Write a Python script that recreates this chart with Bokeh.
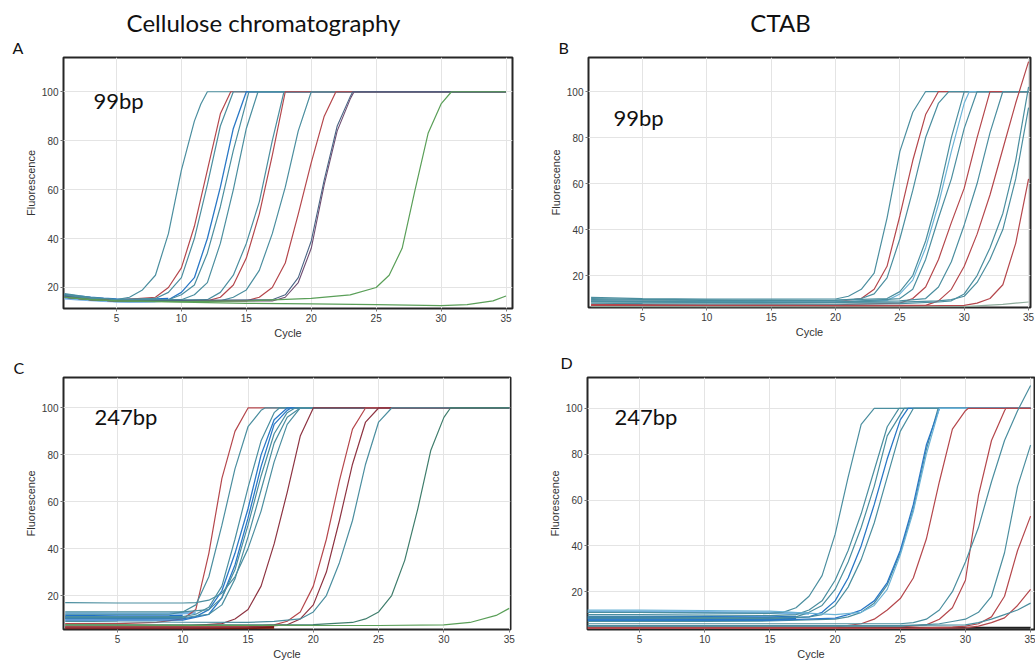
from bokeh.plotting import figure
from bokeh.models import Range1d, Label
from bokeh.layouts import column, row
from bokeh.core.properties import value
from bokeh.embed import file_html
from bokeh.resources import INLINE

# ---------------- data (digitised vertices: cycle, fluorescence) ----------------
X_TICKS = [5, 10, 15, 20, 25, 30, 35]
Y_TICKS = [20, 40, 60, 80, 100]
COLUMN_TITLES = ["Cellulose chromatography", "CTAB"]
PANEL_LETTERS = ["A", "B", "C", "D"]
AMPLICONS = ["99bp", "99bp", "247bp", "247bp"]

A_band = [
    ("band", [1, 2, 3, 4, 5, 6, 7, 8, 9], [16.6, 16.0, 15.5, 15.1, 14.8, 14.7, 14.7, 14.8, 15.0]),
    ("lb", [1, 2, 3, 4, 5, 6, 7, 8], [15.6, 15.2, 14.9, 14.6, 14.4, 14.3, 14.4, 14.5]),
]
A_curves = [
    ("t", [1, 3, 5, 6, 7, 8, 9, 10, 11, 11.5, 12, 35], [17, 15.8, 15, 16, 19, 25, 42, 68, 88, 95, 100, 100]),
    ("r", [1, 3, 5, 8, 9, 10, 11, 12, 13, 13.8, 35], [16.5, 15.5, 14.8, 16, 20, 28, 45, 68, 91, 100, 100]),
    ("t", [1, 3, 5, 8, 9, 10, 11, 12, 13, 14, 35], [17.5, 16, 15, 15.5, 18, 24, 40, 62, 86, 100, 100]),
    ("b", [1, 3, 5, 9, 10, 11, 12, 13, 14, 15, 35], [16, 15, 14.5, 15, 18, 24, 40, 61, 85, 100, 100]),
    ("t", [1, 3, 5, 9, 10, 11, 12, 13, 14, 15, 15.2, 35], [17, 15.5, 14.8, 15, 17, 21, 34, 53, 76, 96, 100, 100]),
    ("t", [1, 3, 5, 10, 11, 12, 13, 14, 15, 15.9, 35], [16.5, 15.5, 14.8, 15, 17, 22, 38, 60, 85, 100, 100]),
    ("t", [1, 3, 5, 12, 13, 14, 15, 16, 17, 17.9, 35], [17, 15.5, 14.5, 15, 18, 25, 38, 55, 80, 100, 100]),
    ("r", [1, 3, 5, 12, 13, 14, 15, 16, 17, 18, 35], [16, 15, 14.5, 14.5, 16, 21, 32, 50, 74, 100, 100]),
    ("t", [1, 3, 5, 13, 14, 15, 16, 17, 18, 19, 20, 35], [16.5, 15.2, 14.5, 14.5, 16, 19, 27, 42, 61, 84, 100, 100]),
    ("r", [1, 3, 5, 15, 16, 17, 18, 19, 20, 21, 21.9, 35], [16, 15, 14.5, 14.5, 16, 20, 30, 50, 71, 90, 100, 100]),
    ("p", [1, 3, 5, 17, 18, 19, 20, 21, 22, 23, 23.3, 35], [16, 15, 14.5, 14.5, 16, 22, 36, 62, 84, 97, 100, 100]),
    ("d", [1, 3, 5, 17, 18, 19, 20, 21, 22, 23, 23.2, 35], [16.5, 15, 14.5, 15, 17, 24, 39, 64, 86, 98, 100, 100]),
    ("g", [1, 3, 5, 10, 15, 20, 23, 25, 26, 27, 28, 29, 30, 30.8, 35],
     [16, 15, 14.5, 14.2, 14.5, 15.5, 17, 20, 25, 36, 60, 83, 95, 100, 100]),
    ("g", [1, 3, 5, 10, 15, 20, 25, 30, 32, 34, 35], [16, 15, 14.5, 14, 13.5, 13.3, 13, 12.6, 13, 14.5, 16.5]),
]

B_band = []
B_curves = [
    ("t", [1, 5, 10, 15, 20, 21, 22, 23, 24, 25, 26, 27, 35], [10.5, 10, 9.8, 9.7, 9.8, 11, 14, 21, 45, 74, 91, 100, 100]),
    ("r", [1, 5, 10, 15, 20, 22, 23, 24, 25, 26, 27, 28, 35], [9, 8.8, 8.6, 8.5, 8.6, 10, 14, 24, 46, 70, 90, 100, 100]),
    ("t", [1, 5, 10, 15, 20, 22, 23, 24, 25, 26, 27, 28, 28.8, 35], [9.5, 9.3, 9.2, 9, 9.2, 10, 12, 19, 36, 57, 80, 95, 100, 100]),
    ("t", [1, 5, 10, 15, 20, 24, 25, 26, 27, 28, 29, 30, 35], [10, 9.6, 9.4, 9.2, 9.3, 10, 13, 20, 35, 55, 80, 100, 100]),
    ("l", [1, 5, 10, 15, 20, 24, 25, 26, 27, 28, 29, 30, 30.4, 35], [9, 8.8, 8.7, 8.6, 8.7, 9.2, 12, 18, 32, 51, 74, 95, 100, 100]),
    ("t", [1, 5, 10, 15, 20, 25, 26, 27, 28, 29, 30, 31, 35], [8.5, 8.4, 8.3, 8.2, 8.3, 10, 14, 27, 45, 62, 84, 100, 100]),
    ("r", [1, 5, 10, 15, 20, 25, 26, 27, 28, 29, 30, 31, 32, 35], [7.5, 7.4, 7.3, 7.2, 7.3, 8, 10, 15, 27, 43, 58, 80, 100, 100]),
    ("t", [1, 5, 10, 15, 20, 25, 27, 28, 29, 30, 31, 32, 33, 35], [9, 8.8, 8.6, 8.5, 8.5, 9, 10, 15, 26, 42, 60, 82, 100, 100]),
    ("r", [1, 5, 10, 20, 25, 27, 28, 29, 30, 31, 32, 33, 34, 35], [7, 7, 6.9, 6.9, 7, 7, 9, 14, 24, 38, 55, 75, 95, 113]),
    ("t", [1, 5, 10, 20, 25, 28, 29, 30, 31, 32, 33, 34, 35], [8, 7.8, 7.7, 7.6, 7.8, 8.5, 9, 12, 20, 32, 47, 70, 102]),
    ("t", [1, 5, 10, 20, 25, 28, 29, 30, 31, 32, 33, 34, 35], [8.7, 8.5, 8.4, 8.3, 8.4, 9, 9.5, 11, 17, 27, 40, 62, 93]),
    ("r", [1, 5, 10, 20, 25, 30, 31, 32, 33, 34, 35], [6.8, 6.8, 6.8, 6.7, 6.7, 7, 8, 10, 16, 34, 62]),
    ("gg", [1, 10, 20, 25, 30, 33, 35], [6.5, 6.4, 6.3, 6.3, 6.5, 7.5, 8.5]),
]

C_band = [
    ("band", [1, 3, 5, 7, 9, 10], [10.8, 10.8, 10.7, 10.7, 10.8, 11]),
    ("lb", [1, 3, 5, 7, 9, 11], [12.3, 12.3, 12.2, 12.2, 12.3, 12.6]),
    ("mb", [1, 5, 10, 15, 17], [6.2, 6.2, 6.2, 6.3, 6.5]),
]
C_curves = [
    ("r", [1, 5, 8, 10, 11, 12, 13, 14, 15, 35], [8, 8, 8.5, 10, 14, 38, 70, 90, 100, 100]),
    ("t", [1, 5, 9, 10, 11, 12, 13, 14, 15, 16, 16.3, 35], [12, 12, 12, 13, 16, 28, 50, 74, 92, 99, 100, 100]),
    ("t", [1, 5, 10, 11, 12, 13, 14, 15, 16, 17, 17.4, 35], [11, 11, 11, 12, 15, 24, 44, 66, 86, 98, 100, 100]),
    ("b", [1, 5, 10, 11, 12, 13, 14, 15, 16, 17, 18, 35], [10, 10, 10, 11, 14, 22, 38, 57, 80, 95, 100, 100]),
    ("b", [1, 5, 10, 12, 13, 14, 15, 16, 17, 18, 18.3, 35], [9.5, 9.5, 9.5, 12, 19, 33, 53, 75, 93, 99, 100, 100]),
    ("t", [1, 5, 10, 12, 13, 14, 15, 16, 17, 18, 18.6, 35], [13, 13, 13, 14, 19, 31, 50, 71, 89, 98, 100, 100]),
    ("t", [1, 5, 10, 12, 13, 14, 15, 16, 17, 18, 19, 35], [10.5, 10.5, 10.5, 12, 16, 27, 45, 65, 85, 96, 100, 100]),
    ("t", [1, 5, 10, 11, 12, 13, 14, 15, 16, 17, 18, 19, 35], [17, 16.8, 16.8, 17, 18, 21, 28, 40, 56, 77, 93, 100, 100]),
    ("m", [1, 5, 10, 13, 14, 15, 16, 17, 18, 19, 20, 35], [7, 7, 7, 8, 10, 14, 24, 42, 64, 88, 100, 100]),
    ("r", [1, 5, 10, 15, 17, 18, 19, 20, 21, 22, 23, 24, 35], [6.5, 6.5, 6.5, 6.8, 7.5, 9, 13, 24, 44, 69, 91, 100, 100]),
    ("m", [1, 5, 10, 15, 18, 19, 20, 21, 22, 23, 24, 25, 35], [6.2, 6.2, 6.2, 6.5, 7.5, 10, 16, 30, 52, 76, 94, 100, 100]),
    ("t", [1, 5, 10, 15, 17, 19, 20, 21, 22, 23, 24, 25, 26, 35], [9, 8.8, 8.6, 8.5, 9, 10, 13, 20, 34, 52, 76, 94, 100, 100]),
    ("dg", [1, 5, 10, 15, 20, 23, 24, 25, 26, 27, 28, 29, 30, 30.5, 35],
     [7.5, 7.5, 7.5, 7.5, 7.6, 8.5, 10, 13, 20, 35, 57, 82, 96, 100, 100]),
    ("g", [1, 5, 10, 15, 20, 25, 30, 32, 34, 35], [7.5, 7.4, 7.3, 7.2, 7.2, 7.2, 7.5, 8.5, 11.5, 14.5]),
]

D_band = [
    ("band", [1, 5, 10, 15, 17], [8.6, 8.6, 8.5, 8.4, 8.6]),
    ("lb", [1, 5, 10, 15, 18], [11.2, 11.2, 11.0, 10.8, 10.5]),
    ("k", [1, 10, 20, 30, 35], [4.3, 4.3, 4.3, 4.3, 4.3]),
]
D_curves = [
    ("t", [1, 5, 10, 15, 16, 17, 18, 19, 20, 21, 22, 23, 35], [11, 11, 10.8, 10.5, 11, 13, 18, 27, 45, 70, 93, 100, 100]),
    ("t", [1, 5, 10, 15, 17, 18, 19, 20, 21, 22, 23, 24, 24.9, 35], [10, 10, 9.8, 9.6, 10, 12, 16, 25, 38, 54, 73, 92, 100, 100]),
    ("t", [1, 5, 10, 15, 17, 18, 19, 20, 21, 22, 23, 24, 25.3, 35], [9, 9, 8.8, 8.6, 9, 11, 14, 21, 33, 48, 66, 88, 100, 100]),
    ("b", [1, 5, 10, 15, 18, 19, 20, 21, 22, 23, 24, 25, 25.6, 35], [8, 8, 8, 8, 9, 11, 16, 26, 40, 58, 78, 95, 100, 100]),
    ("t", [1, 5, 10, 15, 18, 19, 20, 21, 22, 23, 24, 25, 26, 35], [8.5, 8.5, 8.3, 8.2, 9, 10, 14, 22, 34, 50, 70, 90, 100, 100]),
    ("t", [1, 5, 10, 15, 20, 21, 22, 23, 24, 25, 26, 27, 27.9, 35], [7, 7, 7, 7.2, 8, 9, 11, 15, 23, 37, 56, 82, 100, 100]),
    ("b", [1, 5, 10, 15, 20, 21, 22, 23, 24, 25, 26, 27, 28, 35], [7.5, 7.5, 7.5, 7.5, 8.5, 10, 12, 16, 24, 38, 58, 84, 100, 100]),
    ("l", [1, 5, 10, 15, 20, 22, 23, 24, 25, 26, 27, 28, 35], [12, 12, 11.8, 11.5, 10, 11, 14, 21, 36, 55, 80, 100, 100]),
    ("r", [1, 5, 10, 15, 20, 22, 23, 24, 25, 26, 27, 28, 29, 30, 30.2, 35],
     [4.5, 4.5, 4.5, 4.5, 4.6, 6, 8, 12, 17, 26, 43, 68, 91, 99, 100, 100]),
    ("r", [1, 5, 10, 20, 25, 27, 28, 29, 30, 31, 32, 33, 33.1, 35], [4.5, 4.5, 4.5, 4.5, 4.6, 5.5, 8, 13, 25, 62, 86, 99, 100, 100]),
    ("t", [1, 5, 10, 20, 25, 26, 27, 28, 29, 30, 31, 32, 33, 34, 35], [6, 6, 6, 6, 6, 6.5, 8, 12, 20, 33, 48, 68, 86, 99, 110]),
    ("t", [1, 5, 10, 20, 25, 28, 29, 30, 31, 32, 33, 34, 35], [5, 5, 5, 5, 5, 6, 7, 8, 11, 18, 37, 66, 84]),
    ("r", [1, 5, 10, 20, 25, 29, 30, 31, 32, 33, 34, 35], [4, 4, 4, 4, 4, 4.5, 5, 6, 9, 18, 38, 53]),
    ("r", [1, 5, 10, 20, 25, 30, 31, 32, 33, 34, 35], [4, 4, 4, 4, 4, 4.2, 5, 6.5, 8.6, 14, 21]),
    ("t", [1, 5, 10, 20, 25, 30, 31, 32, 33, 34, 35], [5.2, 5.2, 5.2, 5.2, 5.3, 5.5, 6.5, 8, 10, 12, 15]),
]

# ---------------- styles ----------------
STYLE = {
    "t": ("#4b8e9f", 1.2),
    "r": ("#b5474c", 1.2),
    "b": ("#2a78c6", 1.3),
    "d": ("#4a6484", 1.1),
    "p": ("#6e4c70", 1.1),
    "g": ("#5a9f58", 1.2),
    "l": ("#6cb3d6", 1.2),
    "m": ("#8e3442", 1.2),
    "mb": ("#7a1c12", 3.0),
    "dg": ("#3f7d6c", 1.2),
    "gg": ("#8fac9c", 1.2),
    "band": ("#1f70c8", 4.0),
    "lb": ("#79b3e3", 2.5),
    "k": ("#202020", 2.0),
}

TXT_FONT = "Lato"
AX_FONT = "Liberation Sans"
TOTAL_W = 1035


def make_panel(band, curves, xr, yr, fw, fh, bl, br, bt, bb):
    p = figure(frame_width=fw, frame_height=fh,
               x_range=Range1d(*xr), y_range=Range1d(*yr),
               min_border_left=bl, min_border_right=br,
               min_border_top=bt, min_border_bottom=bb,
               output_backend="svg", toolbar_location=None)
    p.background_fill_color = "white"
    p.border_fill_color = "white"
    p.outline_line_color = "#262626"
    p.outline_line_width = 2
    p.xaxis.ticker = X_TICKS
    p.yaxis.ticker = Y_TICKS
    p.xgrid.grid_line_color = "#e4e4e4"
    p.ygrid.grid_line_color = "#e4e4e4"
    p.xaxis.axis_label = "Cycle"
    p.yaxis.axis_label = "Fluorescence"
    for ax in (p.xaxis[0], p.yaxis[0]):
        ax.axis_line_color = None
        ax.major_tick_out = 3
        ax.major_tick_in = 0
        ax.minor_tick_out = 0
        ax.minor_tick_in = 0
        ax.major_tick_line_color = "#777777"
        ax.major_label_text_font = AX_FONT
        ax.major_label_text_font_size = "10px"
        ax.major_label_text_color = "#3a3a3a"
        ax.major_label_standoff = 2
        ax.axis_label_text_font = AX_FONT
        ax.axis_label_text_font_size = "11px"
        ax.axis_label_text_font_style = "normal"
        ax.axis_label_text_color = "#333333"
        ax.axis_label_standoff = 2
    for key, xs, ys in band + curves:
        col, lw = STYLE[key]
        p.line(xs, ys, line_color=col, line_width=lw)
    return p


def make_strip(h, texts):
    # texts: list of (x_px, y_px_from_bottom, text, size, align)
    s = figure(width=TOTAL_W, height=h, x_range=Range1d(0, TOTAL_W), y_range=Range1d(0, h),
               x_axis_type=None, y_axis_type=None, min_border=0, title=None,
               output_backend="svg", toolbar_location=None)
    s.outline_line_color = None
    s.grid.visible = False
    s.background_fill_color = "white"
    s.border_fill_color = "white"
    for x, y, t, size, align in texts:
        s.text(x=[x], y=[y], text=[t], text_font=value(TXT_FONT), text_font_size=size,
               text_color="#111111", text_align=align, text_baseline="alphabetic")
    return s


# top row: A, B
pA = make_panel(A_band, A_curves, (0.92, 35.5), (11.4, 114.0), 449, 251, 63, 8, 1, 38)
pB = make_panel(B_band, B_curves, (0.8, 35.15), (6.1, 114.8), 442, 250, 68, 5, 1, 39)
# bottom row: C, D
pC = make_panel(C_band, C_curves, (0.87, 35.1), (5.5, 113.0), 447, 252, 63, 10, 1, 34)
pD = make_panel(D_band, D_curves, (1.0, 35.3), (3.5, 113.5), 447, 252, 67, 1, 1, 34)


def add_inner(p, x, y, text):
    p.add_layout(Label(x=x, y=y, text=text, text_font=TXT_FONT, text_font_size="22px",
                       text_color="#111111", text_align="left", text_baseline="alphabetic"))


add_inner(pA, 3.23, 96.3, AMPLICONS[0])
add_inner(pB, 2.74, 88.8, AMPLICONS[1])
add_inner(pC, 3.24, 96.5, AMPLICONS[2])
add_inner(pD, 3.07, 96.4, AMPLICONS[3])

strip_top = make_strip(56, [
    (263, 34, COLUMN_TITLES[0], "24px", "center"),
    (780, 34, COLUMN_TITLES[1], "24px", "center"),
    (12, 9, PANEL_LETTERS[0], "16px", "left"),
    (558, 9, PANEL_LETTERS[1], "16px", "left"),
])
strip_mid = make_strip(30, [
    (13, 9, PANEL_LETTERS[2], "16px", "left"),
    (560, 14, PANEL_LETTERS[3], "16px", "left"),
])

layout = column(strip_top, row(pA, pB), strip_mid, row(pC, pD))
open("out.html", "w").write(file_html(layout, INLINE))
